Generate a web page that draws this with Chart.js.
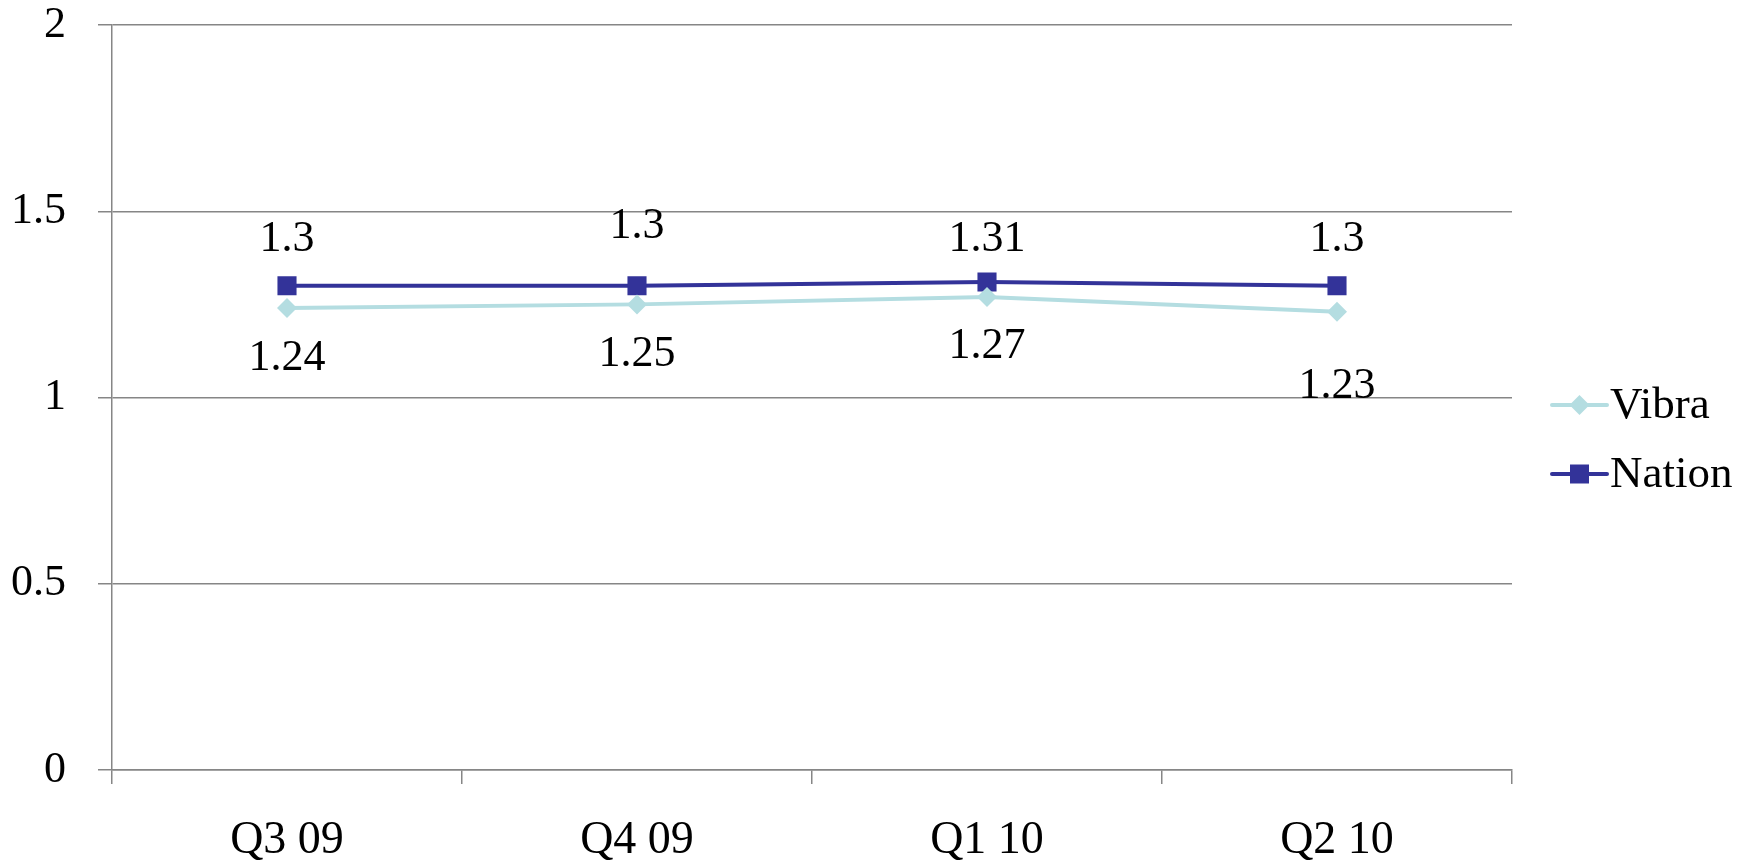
<!DOCTYPE html>
<html>
<head>
<meta charset="utf-8">
<script src="https://cdn.jsdelivr.net/npm/chart.js@4/dist/chart.umd.min.js"></script>
<style>
  html, body { margin: 0; padding: 0; background: #fff; }
  canvas { display: block; }
</style>
</head>
<body>
<canvas id="chart" width="1755" height="866"></canvas>
<script>
// values
const quarters = ['Q3 09', 'Q4 09', 'Q1 10', 'Q2 10'];
const vibraValues = [1.24, 1.25, 1.27, 1.23];
const nationValues = [1.3, 1.3, 1.31, 1.3];
const yTicks = [0, 0.5, 1, 1.5, 2];

const FONT = "'Liberation Serif', 'Times New Roman', serif";
const GRID = '#868686';
const VIBRA = '#b4dde1';
const NATION = '#333399';

// label nudges (px) - the original labels were hand-placed
const labelOffsets = {
  Vibra: [50, 50, 50, 75],
  Nation: [-46, -59, -43, -46],
};

function drawMarker(ctx, style, x, y, color) {
  ctx.save();
  ctx.fillStyle = color;
  ctx.beginPath();
  if (style === 'rect') {
    ctx.rect(x - 9.5, y - 9.5, 19, 19);
  } else {
    ctx.moveTo(x, y - 10);
    ctx.lineTo(x + 10, y);
    ctx.lineTo(x, y + 10);
    ctx.lineTo(x - 10, y);
    ctx.closePath();
  }
  ctx.fill();
  ctx.restore();
}

const labelsAndLegend = {
  id: 'labelsAndLegend',
  afterDatasetsDraw(chart) {
    const ctx = chart.ctx;
    ctx.save();
    ctx.font = `44px ${FONT}`;
    ctx.fillStyle = '#000';
    ctx.textAlign = 'center';
    ctx.textBaseline = 'middle';
    chart.data.datasets.forEach((ds, i) => {
      const meta = chart.getDatasetMeta(i);
      const offs = labelOffsets[ds.label];
      meta.data.forEach((pt, j) => {
        ctx.fillText(String(ds.data[j]), pt.x, pt.y + offs[j]);
      });
    });

    // legend: line with marker, then the name
    const x0 = 1552, x1 = 1607;
    const rows = [405, 474];
    ctx.font = `45px ${FONT}`;
    ctx.textAlign = 'left';
    chart.data.datasets.forEach((ds, i) => {
      const y = rows[i];
      ctx.strokeStyle = ds.borderColor;
      ctx.lineWidth = 4;
      ctx.lineCap = 'round';
      ctx.beginPath();
      ctx.moveTo(x0, y);
      ctx.lineTo(x1, y);
      ctx.stroke();
      drawMarker(ctx, ds.pointStyle, (x0 + x1) / 2, y, ds.borderColor);
      ctx.fillStyle = '#000';
      ctx.fillText(ds.label, x1 + 3, y + 1);
    });
    ctx.restore();
  },
};

new Chart(document.getElementById('chart'), {
  type: 'line',
  data: {
    labels: quarters,
    datasets: [
      {
        label: 'Vibra',
        data: vibraValues,
        borderColor: VIBRA,
        backgroundColor: VIBRA,
        borderWidth: 4,
        pointStyle: 'rectRot',
        pointRadius: 10,
        pointBorderWidth: 0,
        tension: 0,
      },
      {
        label: 'Nation',
        data: nationValues,
        borderColor: NATION,
        backgroundColor: NATION,
        borderWidth: 4,
        pointStyle: 'rect',
        pointRadius: 13.5,
        pointBorderWidth: 0,
        tension: 0,
      },
    ],
  },
  options: {
    responsive: false,
    animation: false,
    layout: { autoPadding: false, padding: { top: 25, right: 243, bottom: 0, left: 0 } },
    plugins: {
      legend: { display: false },
      tooltip: { enabled: false },
    },
    scales: {
      x: {
        offset: true,
        grid: {
          offset: true,
          drawOnChartArea: false,
          drawTicks: true,
          tickLength: 14,
          color: GRID,
          lineWidth: 1.5,
        },
        border: { color: GRID, width: 1.5 },
        ticks: {
          font: { family: FONT, size: 46 },
          color: '#000',
          padding: 29,
          maxRotation: 0,
        },
        afterFit: (scale) => { scale.height = 96; },
      },
      y: {
        min: 0,
        max: 2,
        afterBuildTicks: (scale) => { scale.ticks = yTicks.map((v) => ({ value: v })); },
        grid: {
          color: GRID,
          lineWidth: 1.5,
          tickLength: 14,
        },
        border: { color: GRID, width: 1.5 },
        ticks: {
          font: { family: FONT, size: 44 },
          color: '#000',
          padding: 32,
          callback: (v) => String(v),
        },
        afterFit: (scale) => {
          scale.width = 112;
          scale.paddingTop = 0;
          scale.paddingBottom = 0;
        },
      },
    },
  },
  plugins: [labelsAndLegend],
});
</script>
</body>
</html>
